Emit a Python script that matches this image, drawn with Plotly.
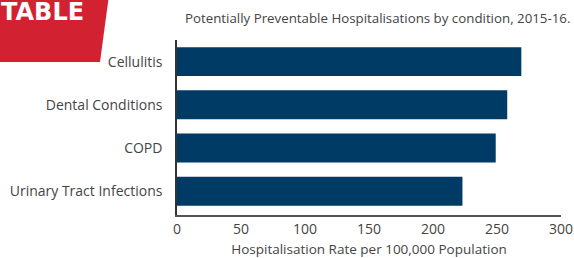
import plotly.graph_objects as go

categories = ["Cellulitis", "Dental Conditions", "COPD", "Urinary Tract Infections"]
rates = [269, 258, 249, 223]
x_ticks = [0, 50, 100, 150, 200, 250, 300]

W, H = 574, 258
L, R, T, B = 177, 13, 40, 43
PW, PH = W - L - R, H - T - B

def px(x):
    return (x - L) / PW

def py(y):
    return (H - B - y) / PH

fig = go.Figure(go.Bar(
    y=categories, x=rates, orientation="h",
    marker=dict(color="#003b66", line=dict(width=0)),
    width=0.67,
))

font = "Open Sans, Lato, sans-serif"
fig.update_layout(
    width=W, height=H,
    margin=dict(l=L, r=R, t=T, b=B, autoexpand=False),
    paper_bgcolor="white", plot_bgcolor="white",
    showlegend=False,
    font=dict(family=font, color="#444444", size=13),
    xaxis=dict(range=[0, 300], tickvals=x_ticks, showgrid=False, zeroline=False,
               showline=True, linecolor="#555555", linewidth=2,
               ticks="", tickfont=dict(size=14, color="#444444"),
               title=dict(text="Hospitalisation Rate per 100,000 Population",
                          font=dict(size=13.5, color="#444444"), standoff=8)),
    yaxis=dict(categoryorder="array", categoryarray=categories[::-1],
               range=[-0.55, 3.5], showgrid=False, zeroline=False,
               showline=True, linecolor="#333333", linewidth=1.5,
               ticks="outside", ticklen=10, tickcolor="rgba(0,0,0,0)",
               tickfont=dict(size=14, color="#444444")),
    shapes=[dict(
        type="path", xref="paper", yref="paper",
        path=f"M {px(-5)} {py(-5)} L {px(109)} {py(-5)} L {px(100)} {py(62)} L {px(-5)} {py(62)} Z",
        fillcolor="#d22232", line=dict(width=0), layer="above",
    )],
    annotations=[
        dict(text="<b>TABLE</b>", xref="paper", yref="paper",
             x=px(-1), y=py(12.5), xanchor="left", yanchor="middle",
             showarrow=False,
             font=dict(family="DejaVu Sans, sans-serif", size=24, color="white")),
        dict(text="Potentially Preventable Hospitalisations by condition, 2015-16.",
             xref="paper", yref="paper", x=px(183), y=py(18),
             xanchor="left", yanchor="middle", showarrow=False,
             font=dict(family=font, size=13.3, color="#444444")),
    ],
)

fig.write_html("out.html", config={"displayModeBar": False},
               post_script="document.body.style.margin='0';document.body.style.overflow='hidden';")
